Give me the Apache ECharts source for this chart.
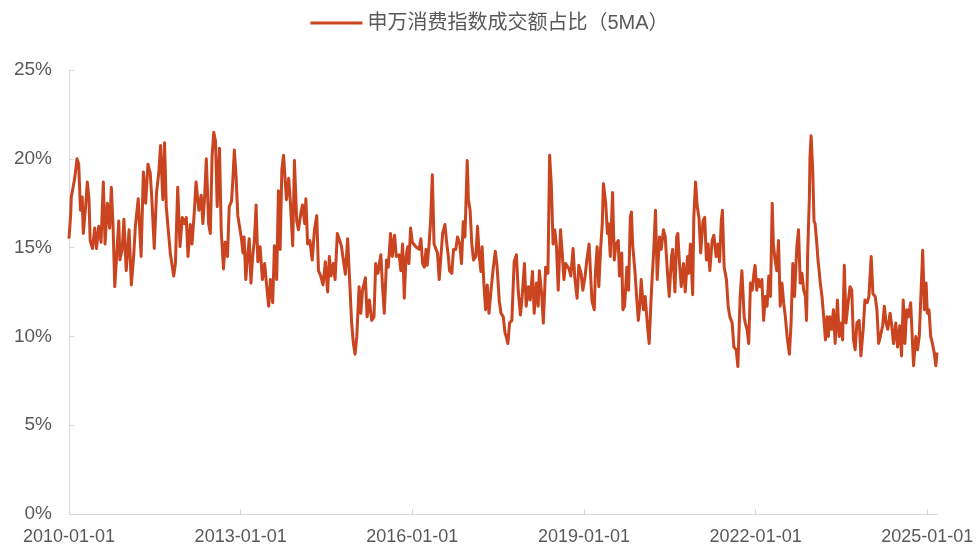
<!DOCTYPE html>
<html>
<head>
<meta charset="utf-8">
<title>申万消费指数成交额占比</title>
<script src="https://cdn.jsdelivr.net/npm/echarts@6/dist/echarts.min.js"></script>
<style>
html, body { margin: 0; padding: 0; background: #fff; }
#container1 { width: 979px; height: 546px; }
</style>
</head>
<body>
<div id="container1"></div>
<script>
// 日期用小数年表示（2010.50 ≈ 2010年年中），数值为占比（%）
var dates = [
	2010.00, 2010.03, 2010.04, 2010.07, 2010.10, 2010.14, 2010.17, 2010.20, 2010.23, 2010.25, 2010.29, 2010.32, 2010.35, 2010.37, 2010.41, 2010.45, 2010.48, 2010.52, 2010.56, 2010.60, 2010.63, 2010.67, 2010.71, 2010.74, 2010.77, 2010.80, 2010.84, 2010.87, 2010.89, 2010.93, 2010.96,
	2011.00, 2011.05, 2011.09, 2011.13, 2011.16, 2011.21, 2011.26, 2011.30, 2011.34, 2011.38, 2011.42, 2011.45, 2011.49, 2011.53, 2011.57, 2011.60, 2011.64, 2011.67, 2011.70, 2011.74, 2011.77, 2011.80, 2011.83, 2011.86, 2011.90, 2011.94, 2011.98,
	2012.02, 2012.05, 2012.08, 2012.12, 2012.15, 2012.19, 2012.22, 2012.27, 2012.31, 2012.34, 2012.37, 2012.40, 2012.44, 2012.47, 2012.50, 2012.53, 2012.56, 2012.59, 2012.63, 2012.66, 2012.70, 2012.73, 2012.77, 2012.80, 2012.84, 2012.86, 2012.89, 2012.92, 2012.95, 2012.98,
	2013.01, 2013.04, 2013.06, 2013.09, 2013.12, 2013.15, 2013.18, 2013.21, 2013.24, 2013.27, 2013.30, 2013.34, 2013.38, 2013.42, 2013.45, 2013.49, 2013.52, 2013.56, 2013.59, 2013.63, 2013.66, 2013.69, 2013.72, 2013.75, 2013.78, 2013.80, 2013.84, 2013.87, 2013.91, 2013.94, 2013.98,
	2014.01, 2014.05, 2014.08, 2014.12, 2014.14, 2014.17, 2014.21, 2014.25, 2014.29, 2014.33, 2014.36, 2014.40, 2014.44, 2014.48, 2014.52, 2014.55, 2014.58, 2014.62, 2014.65, 2014.69, 2014.72, 2014.76, 2014.79, 2014.83, 2014.87, 2014.91, 2014.94, 2014.97,
	2015.00, 2015.03, 2015.07, 2015.10, 2015.13, 2015.18, 2015.21, 2015.25, 2015.29, 2015.33, 2015.36, 2015.40, 2015.45, 2015.48, 2015.51, 2015.55, 2015.58, 2015.62, 2015.65, 2015.69, 2015.72, 2015.77, 2015.80, 2015.83, 2015.86, 2015.89, 2015.92, 2015.94, 2015.97,
	2016.00, 2016.03, 2016.06, 2016.09, 2016.12, 2016.15, 2016.18, 2016.21, 2016.24, 2016.26, 2016.29, 2016.32, 2016.35, 2016.38, 2016.41, 2016.44, 2016.47, 2016.50, 2016.53, 2016.57, 2016.60, 2016.63, 2016.65, 2016.69, 2016.72, 2016.76, 2016.79, 2016.83, 2016.86, 2016.89, 2016.92, 2016.96, 2016.98,
	2017.01, 2017.04, 2017.07, 2017.11, 2017.14, 2017.17, 2017.20, 2017.22, 2017.25, 2017.28, 2017.31, 2017.34, 2017.37, 2017.41, 2017.45, 2017.48, 2017.52, 2017.55, 2017.59, 2017.62, 2017.64, 2017.67, 2017.70, 2017.74, 2017.78, 2017.82, 2017.85, 2017.89, 2017.92, 2017.96, 2017.99,
	2018.03, 2018.06, 2018.10, 2018.13, 2018.17, 2018.20, 2018.22, 2018.26, 2018.29, 2018.33, 2018.37, 2018.40, 2018.43, 2018.46, 2018.49, 2018.52, 2018.55, 2018.59, 2018.62, 2018.65, 2018.68, 2018.71, 2018.74, 2018.77, 2018.81, 2018.84, 2018.88, 2018.91, 2018.95, 2018.98,
	2019.02, 2019.05, 2019.09, 2019.12, 2019.14, 2019.18, 2019.20, 2019.23, 2019.26, 2019.29, 2019.32, 2019.34, 2019.38, 2019.41, 2019.43, 2019.46, 2019.50, 2019.53, 2019.56, 2019.60, 2019.62, 2019.66, 2019.68, 2019.71, 2019.75, 2019.78, 2019.81, 2019.83, 2019.85, 2019.89, 2019.92, 2019.95, 2019.98,
	2020.00, 2020.04, 2020.07, 2020.11, 2020.14, 2020.17, 2020.19, 2020.22, 2020.25, 2020.28, 2020.32, 2020.35, 2020.39, 2020.42, 2020.46, 2020.49, 2020.53, 2020.55, 2020.59, 2020.62, 2020.64, 2020.67, 2020.70, 2020.74, 2020.77, 2020.81, 2020.83, 2020.86, 2020.90, 2020.92, 2020.95, 2020.98,
	2021.01, 2021.04, 2021.08, 2021.11, 2021.14, 2021.17, 2021.20, 2021.24, 2021.27, 2021.31, 2021.34, 2021.37, 2021.40, 2021.42, 2021.45, 2021.49, 2021.52, 2021.55, 2021.59, 2021.62, 2021.66, 2021.69, 2021.73, 2021.76, 2021.80, 2021.82, 2021.85, 2021.88, 2021.91, 2021.94, 2021.97, 2021.99,
	2022.02, 2022.05, 2022.08, 2022.11, 2022.14, 2022.17, 2022.20, 2022.23, 2022.26, 2022.29, 2022.31, 2022.34, 2022.37, 2022.40, 2022.43, 2022.46, 2022.49, 2022.52, 2022.55, 2022.59, 2022.62, 2022.65, 2022.68, 2022.72, 2022.75, 2022.78, 2022.81, 2022.84, 2022.87, 2022.89, 2022.91, 2022.94, 2022.95, 2022.97,
	2023.00, 2023.02, 2023.04, 2023.07, 2023.09, 2023.11, 2023.13, 2023.16, 2023.19, 2023.22, 2023.25, 2023.27, 2023.30, 2023.33, 2023.36, 2023.39, 2023.43, 2023.46, 2023.50, 2023.52, 2023.55, 2023.58, 2023.61, 2023.65, 2023.68, 2023.71, 2023.74, 2023.77, 2023.81, 2023.84, 2023.88, 2023.91, 2023.95, 2023.98,
	2024.02, 2024.05, 2024.09, 2024.12, 2024.15, 2024.18, 2024.22, 2024.25, 2024.28, 2024.31, 2024.35, 2024.38, 2024.41, 2024.45, 2024.48, 2024.52, 2024.55, 2024.58, 2024.61, 2024.64, 2024.67, 2024.71, 2024.73, 2024.76, 2024.80, 2024.83, 2024.86, 2024.89, 2024.92, 2024.95, 2024.98,
	2025.00, 2025.03, 2025.06, 2025.09, 2025.12, 2025.15, 2025.17
];
var share = [
	15.5, 16.9, 17.85, 17.9, 18.9, 20.0, 19.7, 17.1, 17.85, 15.8, 17.3, 18.7, 17.7, 15.4, 14.95, 16.1, 14.95, 16.2, 15.3, 18.7, 15.2, 17.5, 16.1, 18.4, 16.2, 12.8, 14.9, 16.5, 14.3, 14.9, 16.6,
	13.7, 16.0, 12.9, 14.5, 16.2, 17.75, 14.5, 19.25, 17.5, 19.7, 19.2, 17.6, 14.95, 18.1, 19.25, 20.75, 17.7, 20.9, 17.3, 15.8, 14.7, 14.8, 13.4, 14.1, 18.4, 15.05, 16.7,
	16.35, 16.7, 14.5, 16.3, 15.2, 17.0, 18.7, 17.1, 17.95, 16.35, 17.85, 20.0, 16.35, 15.8, 20.1, 21.5, 21.0, 17.3, 20.6, 16.0, 13.8, 15.3, 14.5, 17.3, 17.6, 18.6, 20.5, 19.0, 16.8, 16.7,
	15.6, 14.7, 15.6, 13.2, 14.5, 15.5, 13.0, 14.5, 15.4, 17.4, 14.2, 15.05, 13.2, 14.1, 13.0, 11.7, 13.2, 11.9, 15.1, 13.2, 18.2, 14.9, 19.4, 20.2, 20.2, 17.7, 18.9, 17.5, 15.1, 19.9, 16.5,
	16.0, 16.9, 17.4, 16.35, 17.75, 15.2, 15.4, 14.3, 16.0, 16.8, 13.7, 13.4, 12.9, 14.2, 12.5, 14.5, 13.4, 14.1, 13.2, 15.8, 15.9, 15.1, 15.2, 13.5, 15.5, 12.8, 10.75, 9.6,
	9.0, 10.0, 12.8, 11.3, 12.6, 13.3, 11.1, 12.05, 10.9, 11.1, 14.1, 13.55, 14.6, 12.8, 11.3, 14.3, 13.9, 15.8, 14.5, 15.7, 14.5, 14.6, 13.7, 15.2, 12.15, 14.5, 15.05, 14.1, 16.1,
	15.3, 15.4, 15.05, 15.1, 14.9, 15.5, 14.1, 13.9, 14.9, 14.0, 15.05, 16.5, 19.1, 15.2, 14.95, 14.7, 13.2, 14.5, 15.8, 16.3, 15.3, 14.5, 13.7, 13.55, 14.9, 14.9, 15.6, 15.2, 14.1, 16.45, 15.6, 19.9, 17.7,
	17.1, 15.2, 14.3, 14.5, 16.2, 14.5, 13.65, 15.05, 13.0, 11.5, 12.9, 11.3, 12.4, 13.7, 14.8, 14.0, 12.0, 11.3, 11.1, 10.2, 10.0, 9.6, 10.75, 10.9, 14.2, 14.6, 12.6, 11.2, 12.25, 14.1, 11.7,
	12.8, 12.05, 13.65, 11.3, 13.0, 11.7, 13.7, 12.4, 10.75, 13.9, 13.55, 20.2, 18.5, 15.2, 16.0, 15.05, 12.6, 16.0, 14.7, 13.2, 14.1, 14.2, 13.8, 13.4, 14.95, 13.3, 12.15, 14.0, 13.55, 12.6,
	13.4, 14.3, 15.2, 13.2, 12.0, 11.5, 13.55, 15.05, 12.8, 14.9, 16.35, 18.6, 17.5, 15.8, 16.35, 14.5, 18.1, 14.3, 15.2, 15.4, 13.4, 14.7, 11.5, 11.7, 13.9, 12.6, 16.7, 17.0, 15.2, 13.7, 12.25, 10.9, 11.9,
	13.2, 11.5, 12.25, 10.6, 9.6, 11.9, 13.2, 14.9, 17.1, 13.2, 15.6, 14.9, 16.0, 15.6, 13.55, 12.25, 14.5, 14.9, 12.5, 15.6, 15.8, 14.1, 12.8, 14.1, 12.5, 14.5, 13.55, 15.2, 12.35, 16.7, 18.7, 17.3,
	16.7, 14.7, 16.5, 16.7, 14.3, 15.2, 13.7, 15.4, 15.7, 14.5, 15.2, 14.2, 16.5, 17.1, 13.9, 13.2, 11.7, 11.1, 10.75, 9.4, 9.25, 8.3, 12.25, 13.7, 11.1, 10.75, 10.4, 9.6, 13.0, 12.6, 13.55, 14.0,
	12.6, 13.2, 12.8, 13.2, 10.9, 12.25, 11.7, 13.4, 12.25, 17.5, 15.2, 14.3, 13.7, 15.4, 11.7, 13.0, 11.9, 11.1, 10.0, 9.0, 10.75, 14.1, 12.25, 15.05, 16.0, 13.0, 13.55, 12.6, 12.25, 10.9, 14.7, 17.9, 20.1, 21.3,
	19.2, 16.5, 16.35, 15.2, 14.3, 13.7, 13.0, 12.25, 11.1, 9.8, 11.1, 10.0, 11.1, 10.4, 11.5, 9.6, 12.05, 10.0, 10.75, 9.8, 14.0, 10.75, 11.7, 12.8, 12.6, 9.8, 9.25, 10.75, 10.9, 8.9, 10.4, 12.05, 11.9, 12.25,
	14.5, 12.4, 12.25, 11.5, 9.6, 10.0, 10.6, 11.7, 10.75, 10.4, 11.3, 10.6, 9.6, 10.75, 9.4, 10.6, 8.9, 12.05, 9.6, 11.5, 11.1, 11.9, 12.0, 8.35, 10.0, 9.25, 10.0, 12.4, 14.85, 11.5, 13.0,
	11.3, 11.5, 10.0, 9.6, 9.1, 8.35, 9.1
];
var yearTicks = [2010, 2013, 2016, 2019, 2022, 2025];
var seriesName = '申万消费指数成交额占比（5MA）';

var dom = document.getElementById("container1");
var myChart = echarts.init(dom, null, { renderer: 'canvas' });

var lineData = [];
var n = Math.min(dates.length, share.length);
for (var i = 0; i < n; i++) {
	lineData.push([ dates[i], share[i] ]);
}

var labelColor = '#595959';
var axisColor = '#d9d9d9';
var fontFamily = '"Liberation Sans", Arial, "Noto Sans CJK SC", sans-serif';

myChart.setOption({
	animation : false,
	color : [ '#c9441f' ],
	legend : {
		data : [ seriesName ],
		top : 8,
		left : 'center',
		icon : 'rect',
		itemWidth : 52,
		itemHeight : 3,
		textStyle : {
			color : labelColor,
			fontSize : 20,
			fontFamily : fontFamily
		}
	},
	grid : {
		left : 69,
		right : 42,
		top : 70,
		bottom : 31
	},
	xAxis : {
		type : 'value',
		min : 2010,
		max : dates[dates.length - 1],
		interval : 3,
		axisLine : {
			lineStyle : { color : axisColor, width : 1 }
		},
		axisTick : {
			inside : true,
			length : 5,
			customValues : yearTicks,
			lineStyle : { color : axisColor }
		},
		axisLabel : {
			customValues : yearTicks,
			color : labelColor,
			fontSize : 18,
			fontFamily : fontFamily,
			margin : 14,
			formatter : function(v) {
				return Math.round(v) + '-01-01';
			}
		},
		splitLine : { show : false }
	},
	yAxis : {
		type : 'value',
		min : 0,
		max : 25,
		interval : 5,
		axisLine : {
			show : true,
			lineStyle : { color : axisColor, width : 1 }
		},
		axisTick : {
			show : true,
			inside : true,
			length : 5,
			lineStyle : { color : axisColor }
		},
		axisLabel : {
			color : labelColor,
			fontSize : 19,
			fontFamily : fontFamily,
			margin : 17,
			formatter : '{value}%'
		},
		splitLine : { show : false }
	},
	series : [ {
		name : seriesName,
		type : 'line',
		data : lineData,
		showSymbol : false,
		smooth : false,
		lineStyle : {
			width : 3,
			join : 'round'
		}
	} ]
}, true);
</script>
</body>
</html>
